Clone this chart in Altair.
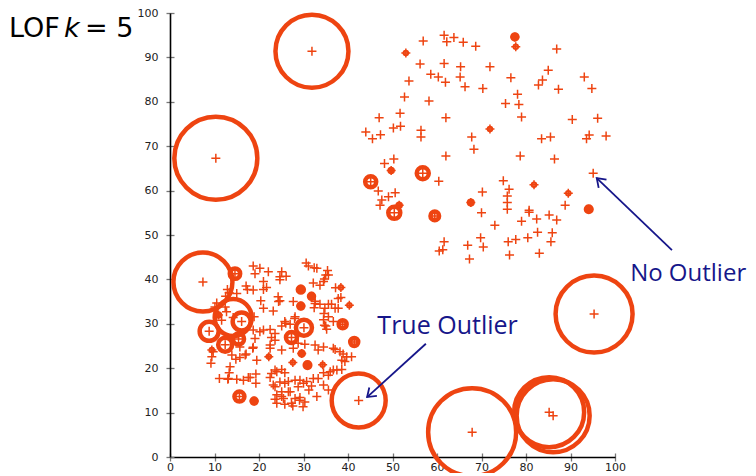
import math
import altair as alt
import pandas as pd

ORANGE = "#EE4411"
NAVY = "#16168A"
PLUS = "M-1,0L1,0M0,-1L0,1"
CHEVRON = "M-1,-0.7L0,0L-1,0.7"

# ---- data ----
left_cluster = [
    (18.7, 43.0), (20.2, 42.5), (22.1, 41.7), (19.1, 41.3), (25.1, 41.7), (26.1, 40.7), (24.7, 40.6), (24.7, 39.9),
    (30.6, 43.7), (31.1, 43.0), (32.4, 42.6), (33.0, 42.5), (35.4, 42.0), (35.0, 41.0), (35.6, 41.0), (34.7, 40.1),
    (32.2, 39.2), (34.5, 39.5), (33.7, 38.7), (37.2, 38.1), (38.4, 35.9), (21.0, 39.5), (21.7, 38.2), (21.0, 37.7),
    (17.1, 38.5), (17.4, 37.7), (12.9, 37.7), (13.3, 37.0), (15.0, 36.8), (12.5, 36.2), (18.7, 37.6), (24.3, 36.1),
    (24.7, 35.2), (24.4, 35.0), (27.7, 35.0), (32.6, 35.1), (32.6, 34.6), (33.7, 34.4), (32.4, 33.6), (35.6, 34.4),
    (36.3, 34.4), (37.8, 35.7), (37.8, 33.5), (37.1, 33.5), (34.8, 33.5), (21.0, 33.5), (23.2, 32.9), (10.5, 34.7),
    (10.1, 33.8), (12.4, 33.8), (12.7, 32.7), (18.9, 31.6), (28.1, 31.6), (25.8, 30.5), (25.1, 29.5), (26.0, 30.1),
    (27.0, 29.9), (28.0, 31.2), (34.5, 30.9), (35.0, 29.5), (34.7, 29.7), (35.2, 28.8), (36.7, 30.5), (34.6, 32.3),
    (35.6, 31.6), (21.0, 28.6), (22.5, 28.7), (20.2, 28.2), (23.6, 27.8), (22.8, 26.9), (23.6, 26.3), (22.5, 25.2),
    (18.7, 28.6), (19.1, 26.7), (18.6, 24.5), (15.7, 24.8), (9.4, 22.6), (9.2, 21.1), (9.7, 23.7), (13.9, 23.0),
    (15.7, 22.4), (14.8, 22.0), (17.1, 23.2), (16.9, 23.0), (19.5, 21.8), (18.7, 24.7), (22.5, 24.5), (25.1, 24.1),
    (27.7, 24.5), (28.8, 25.6), (30.3, 25.4), (32.6, 25.2), (34.5, 24.8), (33.3, 24.1), (36.7, 24.5), (37.1, 24.2),
    (38.2, 23.7), (38.9, 23.2), (39.7, 22.6), (40.8, 22.6), (38.6, 21.8), (39.3, 21.5), (13.5, 20.3), (13.3, 19.0),
    (11.1, 17.7), (13.1, 17.7), (15.0, 17.5), (16.5, 17.3), (18.0, 17.9), (19.3, 18.7), (19.3, 16.6), (22.8, 18.8),
    (23.6, 19.6), (25.1, 19.7), (24.0, 19.2), (25.8, 19.0), (22.5, 17.9), (24.7, 16.9), (23.6, 15.8), (25.8, 16.6),
    (26.6, 14.7), (26.6, 17.0), (28.1, 17.3), (29.2, 17.3), (28.8, 15.8), (30.0, 16.6), (30.7, 17.0), (32.2, 17.7),
    (33.3, 17.7), (34.5, 16.2), (31.8, 16.0), (35.6, 18.4), (36.7, 19.6), (36.0, 19.2), (37.5, 19.6), (38.6, 19.7),
    (34.5, 19.0), (31.2, 15.1), (33.0, 13.6), (35.6, 15.1), (28.1, 13.2), (29.1, 12.8), (30.3, 12.4), (27.3, 12.1),
    (25.1, 13.6), (23.6, 13.0), (24.0, 12.1), (25.8, 11.9), (27.6, 11.5), (29.9, 11.3), (24.0, 14.0), (25.1, 14.7),
    (27.0, 14.7), (25.5, 13.2), (29.2, 13.4), (23.2, 16.2), (13.0, 17.5), (17.6, 17.9), (11.6, 30.8), (20.4, 35.2),
]

right_cluster = [
    (61.6, 95.0), (63.8, 94.5), (62.2, 93.5), (56.9, 93.7), (65.9, 93.4), (68.7, 92.5), (86.9, 91.9), (56.2, 88.5),
    (61.6, 88.6), (65.3, 87.9), (71.9, 87.9), (58.6, 86.2), (60.3, 85.6), (65.2, 85.6), (61.9, 84.4), (66.3, 83.4),
    (70.3, 83.0), (53.7, 84.7), (76.6, 85.4), (85.0, 87.1), (83.7, 84.9), (82.8, 83.8), (93.1, 85.6), (87.3, 82.8),
    (94.8, 83.0), (78.1, 81.7), (75.4, 79.6), (78.4, 79.4), (52.7, 81.1), (58.2, 80.2), (79.0, 76.6), (51.7, 77.4),
    (47.0, 76.4), (62.0, 76.4), (44.0, 73.2), (45.5, 71.7), (47.3, 72.6), (50.2, 74.1), (51.8, 74.5), (56.4, 73.6),
    (56.4, 72.1), (90.4, 76.0), (96.1, 76.3), (67.8, 72.1), (83.5, 71.7), (85.5, 72.1), (93.6, 71.7), (94.2, 72.5),
    (98.0, 72.3), (68.3, 69.3), (62.0, 67.8), (78.7, 67.8), (86.4, 67.1), (48.2, 66.1), (50.3, 67.1), (95.1, 63.9),
    (60.4, 62.1), (74.9, 62.2), (76.2, 60.3), (70.2, 59.7), (75.8, 58.8), (75.8, 57.3), (75.8, 55.8), (46.8, 59.9),
    (50.6, 59.5), (49.1, 58.6), (47.6, 57.9), (47.2, 56.7), (70.0, 55.0), (80.7, 55.6), (80.7, 55.1), (82.4, 53.6),
    (85.2, 54.5), (86.9, 53.4), (88.8, 56.7), (79.0, 53.1), (73.0, 52.2), (82.6, 50.6), (85.9, 50.5), (85.6, 48.5),
    (80.4, 49.4), (77.7, 49.0), (76.0, 48.5), (69.8, 49.4), (70.4, 47.3), (66.9, 47.7), (61.6, 48.5), (61.3, 46.7),
    (60.5, 46.4), (67.3, 44.6), (76.3, 45.5), (83.0, 45.9),
]

# points drawn with a LOF circle: (x, y, LOF score)
scored_points = [
    (31.9, 91.4, 4.65), (10.3, 67.3, 5.15), (7.4, 39.4, 3.95), (95.3, 32.2, 4.85),
    (42.4, 12.7, 3.7), (67.9, 5.6, 5.4), (85.2, 10.1, 4.5), (86.1, 9.3, 4.65),
    (14.6, 41.3, 1.52), (14.2, 31.4, 2.85), (16.1, 30.5, 1.9), (8.8, 28.3, 1.95),
    (12.4, 25.3, 1.7), (15.4, 26.6, 1.55), (10.9, 32.0, 1.15), (30.1, 29.1, 1.8),
    (27.3, 26.9, 1.55), (29.4, 37.7, 1.3), (31.8, 36.2, 1.25), (29.4, 34.0, 1.25),
    (38.8, 29.9, 1.4), (41.4, 25.9, 1.4), (38.4, 38.2, 1.1), (40.3, 34.2, 1.1),
    (22.2, 22.6, 1.12), (27.6, 21.3, 1.1), (34.3, 20.8, 1.1), (9.4, 24.1, 1.1),
    (30.9, 20.7, 1.28), (29.6, 23.3, 1.2), (15.6, 13.6, 1.5), (18.9, 12.6, 1.25),
    (77.5, 94.6, 1.25), (53.0, 91.0, 1.1), (77.7, 92.4, 1.1), (71.9, 73.9, 1.1),
    (49.7, 64.5, 1.15), (81.8, 61.3, 1.1), (89.5, 59.4, 1.1), (67.6, 57.3, 1.18),
    (45.1, 62.0, 1.55), (56.8, 63.9, 1.6), (50.4, 55.0, 1.6), (51.5, 56.7, 1.15),
    (59.5, 54.3, 1.43), (94.1, 55.8, 1.28),
]

axis_ticks = [0, 10, 20, 30, 40, 50, 60, 70, 80, 90, 100]

annotation_text = ["True Outlier", "No Outlier"]
annotation_x = [46.6, 103.4]
annotation_y = [27.6, 39.6]
annotation_size = [25, 24]
arrow_start = [(57.5, 25.5), (112.8, 46.6)]
arrow_end = [(44.3, 13.5), (95.9, 62.8)]

title_parts = ["LOF", "k", "= 5"]
title_x = [-36.2, -23.8, -19.1]
title_y = 94.6

# ---- tables ----
all_pts = [(x, y) for x, y in left_cluster + right_cluster] + [(x, y) for x, y, _ in scored_points]
pts = pd.DataFrame(all_pts, columns=["x", "y"])
scored = pd.DataFrame(scored_points, columns=["x", "y", "lof"])
ann = pd.DataFrame({"text": annotation_text, "x": annotation_x, "y": annotation_y, "fs": annotation_size})
arrows = pd.DataFrame({
    "x": [s[0] for s in arrow_start], "y": [s[1] for s in arrow_start],
    "x2": [e[0] for e in arrow_end], "y2": [e[1] for e in arrow_end],
})
arrows["angle"] = [
    (math.degrees(math.atan2(-(e[1] - s[1]), e[0] - s[0])) + 360) % 360
    for s, e in zip(arrow_start, arrow_end)
]
title_normal = pd.DataFrame({"text": [title_parts[0], title_parts[2]], "x": [title_x[0], title_x[2]], "y": [title_y, title_y]})
title_italic = pd.DataFrame({"text": [title_parts[1]], "x": [title_x[1]], "y": [title_y]})

xs = alt.Scale(domain=[0, 100], nice=False, zero=False)
ys = alt.Scale(domain=[0, 100], nice=False, zero=False)

tick_axis = dict(domain=False, labels=False, ticks=True, tickSize=8, offset=-4,
                 tickColor="#777777", tickWidth=1.3, grid=False, values=axis_ticks, title=None)
label_axis = dict(domain=True, domainColor="black", domainWidth=1.6, ticks=False, labels=True,
                  labelFont="DejaVu Sans", labelFontSize=11, labelColor="#222222",
                  grid=False, values=axis_ticks, title=None, labelFlush=False)

plus = alt.Chart(pts).mark_point(
    shape=PLUS, size=81, strokeWidth=1.5, color=ORANGE, filled=False, opacity=1
).encode(
    x=alt.X("x:Q", scale=xs, axis=alt.Axis(orient="bottom", **tick_axis)),
    y=alt.Y("y:Q", scale=ys, axis=alt.Axis(orient="left", **tick_axis)),
)

circles = alt.Chart(scored).transform_calculate(
    excess="datum.lof - 1"
).mark_point(
    shape="circle", filled=False, strokeWidth=4.5, color=ORANGE, opacity=1
).encode(
    x=alt.X("x:Q", scale=xs, axis=alt.Axis(orient="bottom", labelPadding=4, **label_axis)),
    y=alt.Y("y:Q", scale=ys, axis=alt.Axis(orient="left", labelPadding=12, **label_axis)),
    size=alt.Size("excess:Q", scale=alt.Scale(type="pow", exponent=2, domain=[0, 5], range=[0, 10000]), legend=None),
)

arrow_lines = alt.Chart(arrows).mark_rule(color=NAVY, strokeWidth=1.8).encode(
    x=alt.X("x:Q", scale=xs, axis=None), y=alt.Y("y:Q", scale=ys, axis=None),
    x2="x2:Q", y2="y2:Q",
)
arrow_heads = alt.Chart(arrows).mark_point(
    shape=CHEVRON, size=260, strokeWidth=1.8, color=NAVY, filled=False, opacity=1
).encode(
    x=alt.X("x2:Q", scale=xs, axis=None), y=alt.Y("y2:Q", scale=ys, axis=None),
    angle=alt.Angle("angle:Q", scale=None),
)

ann_text = alt.Chart(ann).mark_text(
    font="Open Sans", color=NAVY, align="left", baseline="alphabetic"
).encode(
    x=alt.X("x:Q", scale=xs, axis=None), y=alt.Y("y:Q", scale=ys, axis=None), text="text:N",
    size=alt.Size("fs:Q", scale=None, legend=None),
)

t_norm = alt.Chart(title_normal).mark_text(
    font="DejaVu Sans", fontSize=27, color="black", align="left", baseline="alphabetic"
).encode(
    x=alt.X("x:Q", scale=xs, axis=None), y=alt.Y("y:Q", scale=ys, axis=None), text="text:N",
)
t_ital = alt.Chart(title_italic).mark_text(
    font="DejaVu Sans", fontSize=27, fontStyle="italic", color="black", align="left", baseline="alphabetic"
).encode(
    x=alt.X("x:Q", scale=xs, axis=None), y=alt.Y("y:Q", scale=ys, axis=None), text="text:N",
)

chart = alt.layer(
    plus, circles, arrow_lines, arrow_heads, ann_text, t_norm, t_ital
).resolve_axis(
    x="independent", y="independent"
).resolve_scale(
    size="independent"
).properties(
    width=445, height=444,
    padding={"left": 162, "top": 5, "right": 133, "bottom": 16},
    autosize=alt.AutoSizeParams(type="none"),
).configure_view(stroke=None)

chart.save("out.html", embed_options={"renderer": "svg", "actions": False})
